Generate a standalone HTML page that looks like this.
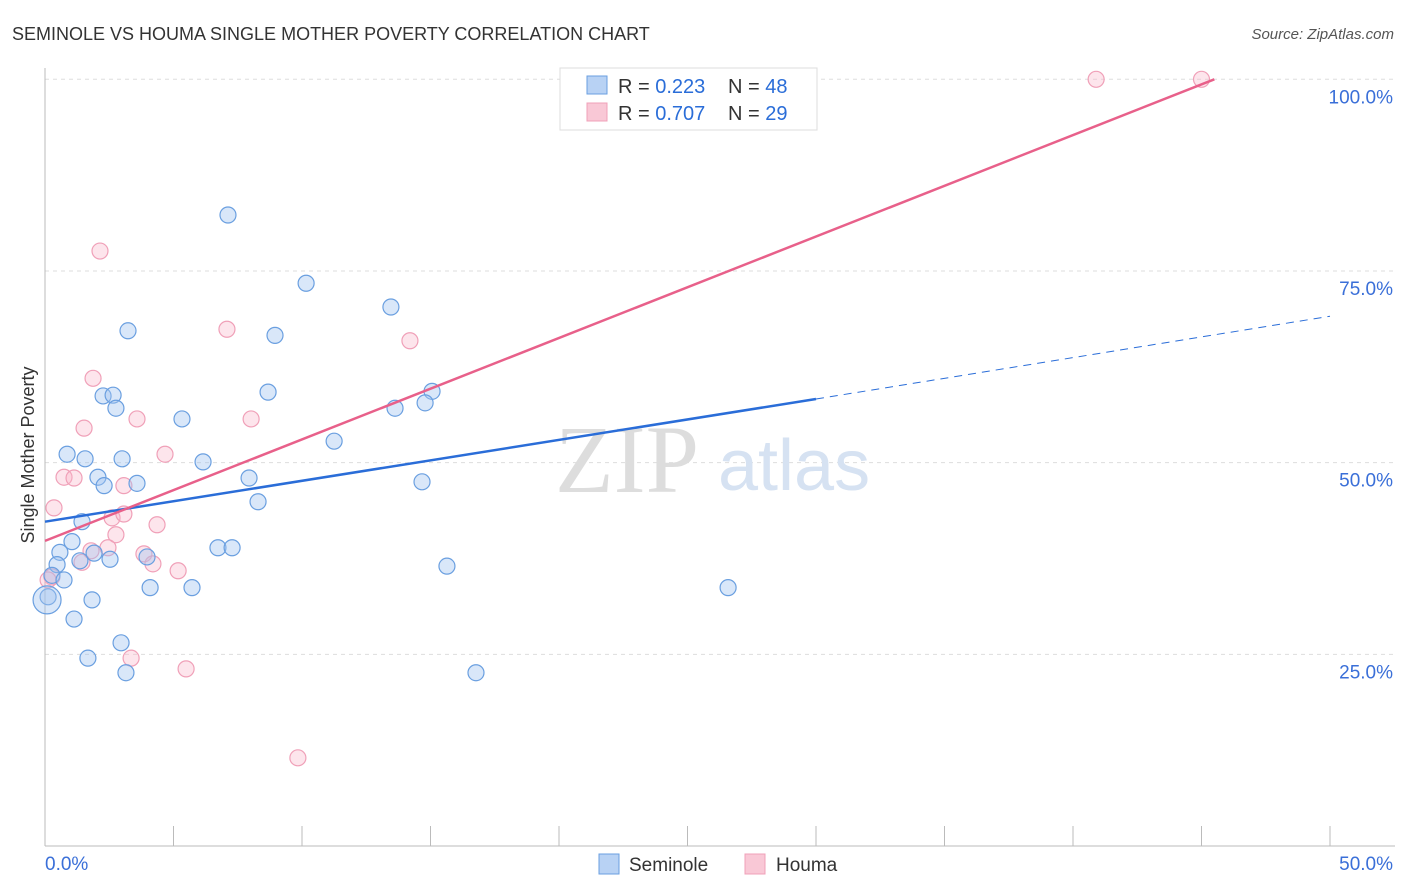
<!DOCTYPE html>
<html><head><meta charset="utf-8"><style>
body{margin:0;background:#fff;font-family:"Liberation Sans",sans-serif}
svg{display:block}
</style></head><body>
<svg id="chart" width="1406" height="892" xmlns="http://www.w3.org/2000/svg">
<text x="12" y="40" font-size="18" fill="#333">SEMINOLE VS HOUMA SINGLE MOTHER POVERTY CORRELATION CHART</text>
<text x="1394" y="39" font-size="15" fill="#555" font-style="italic" text-anchor="end">Source: ZipAtlas.com</text>
<g id="grid"></g>
<g id="axes"></g>
<text x="555" y="492" font-size="96" fill="#ddd" font-family="Liberation Serif,serif">ZIP</text>
<text x="718" y="490" font-size="72" fill="#d6e2f2">atlas</text>
<g id="pts"></g>
<g id="trends"></g>
<text transform="translate(34,455) rotate(-90)" font-size="18" fill="#333" text-anchor="middle">Single Mother Poverty</text>
<g>
<rect x="560" y="68" width="257" height="62" fill="#fff" stroke="#ddd"/>
<rect x="587" y="76" width="20" height="18" fill="#b8d2f4" stroke="#6a9fe0"/>
<rect x="587" y="103" width="20" height="18" fill="#f9c8d6" stroke="#f0a0b8"/>
<text x="618" y="93" font-size="20" fill="#333">R = <tspan fill="#2a6dd8">0.223</tspan>  <tspan x="728">N = </tspan><tspan fill="#2a6dd8">48</tspan></text>
<text x="618" y="120" font-size="20" fill="#333">R = <tspan fill="#2a6dd8">0.707</tspan>  <tspan x="728">N = </tspan><tspan fill="#2a6dd8">29</tspan></text>
</g>
<g>
<rect x="599" y="854" width="20" height="20" fill="#b8d2f4" stroke="#6a9fe0"/>
<text x="629" y="871" font-size="19" fill="#333">Seminole</text>
<rect x="745" y="854" width="20" height="20" fill="#f9c8d6" stroke="#f0a0b8"/>
<text x="776" y="871" font-size="19" fill="#333">Houma</text>
</g>
</svg>
<script>
const seminoleX=[7.12,10.16,13.46,3.23,8.95,8.68,15.06,2.26,2.65,2.76,13.62,14.79,5.33,11.25,0.86,1.56,3.0,6.15,2.06,2.30,3.58,7.94,14.67,8.29,1.44,1.05,0.58,1.91,2.53,3.97,6.73,7.28,0.47,1.36,0.27,0.74,0.12,1.83,4.09,5.72,15.64,26.58,1.13,2.96,1.67,3.15,16.77,0.08];
const seminoleY=[82.3,73.4,70.3,67.2,66.6,59.2,59.3,58.7,58.8,57.1,57.1,57.8,55.7,52.8,51.1,50.5,50.5,50.1,48.1,47.0,47.3,48.0,47.5,44.9,42.3,39.7,38.3,38.2,37.4,37.7,38.9,38.9,36.7,37.2,35.3,34.7,32.5,32.1,33.7,33.7,36.5,33.7,29.6,26.5,24.5,22.6,22.6,32.1];
const houmaX=[40.9,45.0,2.14,7.08,14.2,1.87,3.58,8.02,1.52,4.67,0.74,1.13,0.35,3.07,2.61,3.07,4.36,2.76,1.79,3.85,1.44,4.2,5.18,0.27,3.35,5.49,9.84,0.12,2.45];
const houmaY=[100,100,77.6,67.4,65.9,61.0,55.7,55.7,54.5,51.1,48.1,48.0,44.1,47.0,42.8,43.3,41.9,40.6,38.5,38.1,37.0,36.8,35.9,35.1,24.5,23.1,11.5,34.7,38.9];
const yTicks=[25,50,75,100];
const yTickLabels=["25.0%","50.0%","75.0%","100.0%"];
const xTickLabels=["0.0%","50.0%"];
const seminoleTrend=[[0,42.3],[30,58.3],[50,69.1]];
const houmaTrend=[[0,39.8],[45.5,100]];
const X=v=>45+v*25.7, Y=v=>846-v*7.667;
const NS="http://www.w3.org/2000/svg";
function mk(p,t,a){const e=document.createElementNS(NS,t);for(const k in a)e.setAttribute(k,a[k]);p.appendChild(e);return e;}
const grid=document.getElementById('grid'),axes=document.getElementById('axes');
yTicks.forEach((t,i)=>{
 const l=mk(grid,'line',{x1:45,x2:1395,y1:Y(t),y2:Y(t),stroke:'#ddd','stroke-dasharray':'4,4'});
 
 
 const tx=mk(axes,'text',{x:1393,y:Y(t)+24,'font-size':19,fill:'#3a6fd8','text-anchor':'end'});
 tx.textContent=yTickLabels[i];
 
 
});
mk(axes,'line',{x1:45,x2:1395,y1:846,y2:846,stroke:'#bbb'});
mk(axes,'line',{x1:45,x2:45,y1:68,y2:846,stroke:'#bbb'});
for(let i=0;i<=10;i++){const t=mk(axes,'line',{x1:X(i*5),x2:X(i*5),y1:826,y2:846,stroke:'#bbb'});
 
 }
const xl0=mk(axes,'text',{x:45,y:870,'font-size':19,fill:'#3a6fd8'});xl0.textContent=xTickLabels[0];


const xl1=mk(axes,'text',{x:1393,y:870,'font-size':19,fill:'#3a6fd8','text-anchor':'end'});xl1.textContent=xTickLabels[1];


const pts=document.getElementById('pts');
houmaX.forEach((x,i)=>{const c=mk(pts,'circle',{cx:X(x),cy:Y(houmaY[i]),r:8,fill:'rgba(248,180,200,0.35)',stroke:'#f0a0b8','stroke-width':1.2});
 
 });
seminoleX.forEach((x,i)=>{const c=mk(pts,'circle',{cx:X(x),cy:Y(seminoleY[i]),r:i==seminoleX.length-1?14:8,fill:'rgba(160,196,240,0.4)',stroke:'#6a9fe0','stroke-width':1.2});
 
 });
const tr=document.getElementById('trends');
const b1=mk(tr,'line',{x1:X(seminoleTrend[0][0]),y1:Y(seminoleTrend[0][1]),x2:X(seminoleTrend[1][0]),y2:Y(seminoleTrend[1][1]),stroke:'#2a6dd8','stroke-width':2.5});


const b2=mk(tr,'line',{x1:X(seminoleTrend[1][0]),y1:Y(seminoleTrend[1][1]),x2:X(seminoleTrend[2][0]),y2:Y(seminoleTrend[2][1]),stroke:'#2a6dd8','stroke-width':1,'stroke-dasharray':'8,6'});


const p1=mk(tr,'line',{x1:X(houmaTrend[0][0]),y1:Y(houmaTrend[0][1]),x2:X(houmaTrend[1][0]),y2:Y(houmaTrend[1][1]),stroke:'#e8608a','stroke-width':2.5});


</script>
</body></html>
